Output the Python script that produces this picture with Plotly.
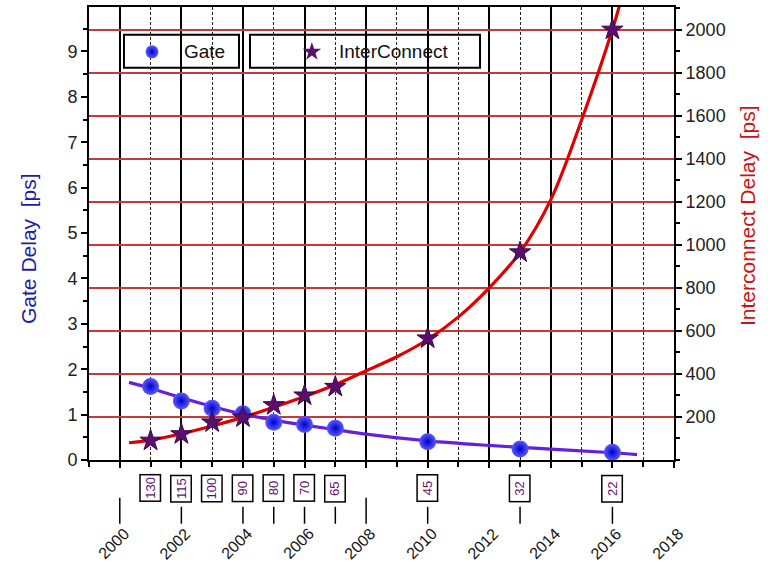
import plotly.graph_objects as go

# Technology nodes: year, feature size (nm) and measured delays
node_years = [2001, 2002, 2003, 2004, 2005, 2006, 2007, 2010, 2013, 2016]
node_nm = [130, 115, 100, 90, 80, 70, 65, 45, 32, 22]
gate_delay = [1.62, 1.30, 1.14, 1.02, 0.83, 0.78, 0.70, 0.40, 0.24, 0.17]
inter_delay = [90, 120, 175, 198, 255, 300, 340, 565, 965, 2000]

# Fitted trend curves
gate_fit_x = [2000.3, 2001, 2002, 2003, 2004, 2005, 2006, 2007, 2008, 2010, 2012, 2014, 2016, 2016.8]
gate_fit_y = [1.71, 1.58, 1.37, 1.18, 1.01, 0.88, 0.77, 0.67, 0.57, 0.42, 0.32, 0.24, 0.16, 0.12]
inter_fit_x = [2000.3, 2001, 2002, 2003, 2004, 2005, 2006, 2007, 2008, 2009, 2010, 2011,
               2012, 2013, 2014, 2015, 2016, 2016.4]
inter_fit_y = [80, 92, 122, 158, 198, 245, 295, 350, 415, 480, 560, 665,
               800, 965, 1210, 1580, 2000, 2200]

# Axis tick values
year_labels = list(range(2000, 2019, 2))
right_ticks = list(range(200, 2001, 200))
dash_years = [2000, 2002, 2004, 2005, 2006, 2007, 2008, 2010, 2013, 2016]

FONT = "Liberation Sans, Arial, sans-serif"
GATE_LINE = "#6420dc"
INTER_LINE = "#e00000"
STAR = "#5a0f6e"
GRID_RED = "#c43a3a"
SPHERE_IN = "#5a5aff"
SPHERE_OUT = "#0000c8"

fig = go.Figure()

fig.add_trace(go.Scatter(x=gate_fit_x, y=gate_fit_y, mode="lines",
                         line=dict(color=GATE_LINE, width=3.2, shape="spline"),
                         showlegend=False, hoverinfo="skip"))
fig.add_trace(go.Scatter(x=node_years, y=gate_delay, mode="markers",
                         marker=dict(symbol="circle", size=17, color=SPHERE_IN,
                                     gradient=dict(type="radial", color=SPHERE_OUT),
                                     line=dict(width=0)),
                         showlegend=False))
fig.add_trace(go.Scatter(x=inter_fit_x, y=inter_fit_y, mode="lines", yaxis="y2",
                         line=dict(color=INTER_LINE, width=3.2, shape="spline"),
                         showlegend=False, hoverinfo="skip"))
fig.add_trace(go.Scatter(x=node_years, y=inter_delay, mode="markers", yaxis="y2",
                         marker=dict(symbol="star", size=16, color=STAR,
                                     line=dict(color="#3a0848", width=1)),
                         showlegend=False))

# Legend keys on an overlay axis spanning the plot area in [0, 1]
fig.add_trace(go.Scatter(x=[0.1077], y=[0.901], xaxis="x3", yaxis="y3", mode="markers",
                         marker=dict(symbol="circle", size=13, color=SPHERE_IN,
                                     gradient=dict(type="radial", color=SPHERE_OUT)),
                         showlegend=False, hoverinfo="skip"))
fig.add_trace(go.Scatter(x=[0.381], y=[0.901], xaxis="x3", yaxis="y3", mode="markers",
                         marker=dict(symbol="star", size=14, color=STAR),
                         showlegend=False, hoverinfo="skip"))

shapes = []
annotations = []


def label(**kw):
    kw.setdefault("showarrow", False)
    kw.setdefault("xanchor", "center")
    kw.setdefault("yanchor", "middle")
    annotations.append(kw)


# Legend boxes
for x0, x1 in [(0.0598, 0.2564), (0.2752, 0.6684)]:
    shapes.append(dict(type="rect", xref="paper", yref="paper", x0=x0, x1=x1,
                       y0=0.8659, y1=0.9385, layer="between",
                       fillcolor="white", line=dict(color="black", width=2)))
label(xref="paper", yref="paper", x=0.198, y=0.901, text="Gate",
      font=dict(family=FONT, size=19, color="#111"))
label(xref="paper", yref="paper", x=0.521, y=0.901, text="InterConnect",
      font=dict(family=FONT, size=19, color="#111"))

# Node-size boxes under the axis
for yr, nm in zip(node_years, node_nm):
    label(xref="x", yref="paper", x=yr, y=-0.0626, text=str(nm), textangle=-90,
          bgcolor="white", bordercolor="black", borderwidth=1.5, borderpad=2,
          width=21, height=15, font=dict(family=FONT, size=13, color="#62106e"))

# Short marker dashes below the boxes
for yr in dash_years:
    top = -0.0835 if yr not in node_years else -0.1033
    shapes.append(dict(type="line", xref="x", yref="paper", x0=yr, x1=yr,
                       y0=top, y1=-0.1407, line=dict(color="black", width=1.5)))

# Rotated year labels
for yr in year_labels:
    label(xref="x", yref="paper", x=yr, y=-0.1846, text=str(yr), textangle=-45,
          xshift=-6, font=dict(family=FONT, size=16, color="#111"))

# Axis titles
label(xref="paper", yref="paper", x=-0.1026, y=0.468, text="Gate Delay \u00a0[ps]",
      textangle=-90, font=dict(family=FONT, size=21, color="#1c1ca4"))
label(xref="paper", yref="paper", x=1.1248, y=0.5385, text="Interconnect Delay \u00a0[ps]",
      textangle=-90, font=dict(family=FONT, size=21, color="#cc1111"))

fig.update_layout(
    width=768, height=564,
    margin=dict(l=89, r=94, t=5, b=104),
    paper_bgcolor="white", plot_bgcolor="white",
    font=dict(family=FONT, size=18, color="#222"),
    showlegend=False,
    shapes=shapes, annotations=annotations,
    xaxis=dict(range=[1999, 2018], tick0=2000, dtick=2, showticklabels=False,
               ticks="outside", ticklen=6, tickwidth=2, tickcolor="black",
               showline=True, linecolor="black", linewidth=2, mirror=True,
               showgrid=True, gridcolor="black", gridwidth=1.6,
               minor=dict(dtick=1, tick0=1999, ticks="outside", ticklen=5, tickwidth=1.5,
                          tickcolor="black", showgrid=True, gridcolor="#222",
                          gridwidth=1, griddash="3px,2px"),
               zeroline=False),
    yaxis=dict(range=[0, 9.98], tick0=0, dtick=1, ticks="outside", ticklen=6,
               tickwidth=2, tickcolor="black", showline=True, linecolor="black",
               linewidth=2, showgrid=False, zeroline=False,
               tickfont=dict(family=FONT, size=18, color="#222"),
               minor=dict(dtick=0.5, ticks="outside", ticklen=4, tickwidth=1.5,
                          tickcolor="black")),
    yaxis2=dict(range=[0, 2105], overlaying="y", side="right", tickmode="array",
                tickvals=right_ticks, ticks="outside", ticklen=6, tickwidth=2,
                tickcolor="black", showline=True, linecolor="black", linewidth=2,
                showgrid=True, gridcolor=GRID_RED, gridwidth=1.5, zeroline=False,
                tickfont=dict(family=FONT, size=18, color="#222"),
                minor=dict(dtick=100, tick0=0, ticks="outside", ticklen=4, tickwidth=1.5,
                           tickcolor="black")),
    xaxis3=dict(range=[0, 1], overlaying="x", visible=False, anchor="y3"),
    yaxis3=dict(range=[0, 1], overlaying="y", visible=False, anchor="x3"),
)

fig.write_html("out.html")
